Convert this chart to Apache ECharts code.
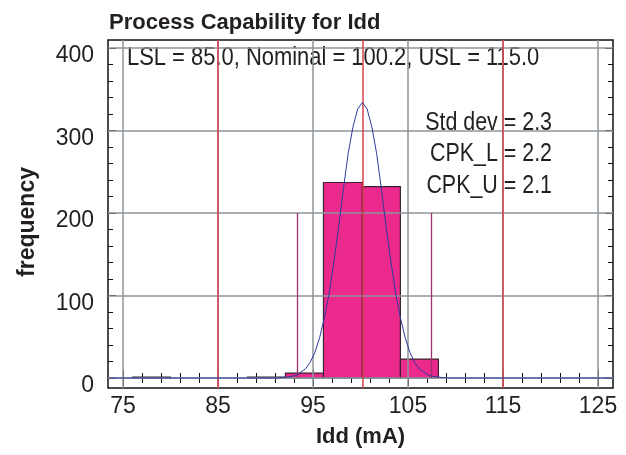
<!DOCTYPE html>
<html>
<head>
<meta charset="utf-8">
<script src="https://cdn.jsdelivr.net/npm/echarts@6/dist/echarts.min.js"></script>
<style>html,body{margin:0;padding:0;background:#fff}#chart{width:626px;height:455px}</style>
</head>
<body>
<div id="chart"></div>
<script>
// histogram bins (mA) and their counts
const binLo = [76.0, 88.1, 92.1, 96.1, 100.2, 104.2];
const binHi = [80.0, 92.1, 96.1, 100.2, 104.2, 108.2];
const binCount = [1, 1, 6, 237, 232, 23];

// fitted curve
const curveX = [73.5, 91.2, 92.2, 93.2, 94.2, 94.7, 95.2, 95.7, 96.2, 96.7, 97.2, 97.7, 98.2, 98.7, 99.2, 99.7, 100.2,
                100.7, 101.2, 101.7, 102.2, 102.7, 103.2, 103.7, 104.2, 104.7, 105.2, 105.7, 106.2, 107.2, 108.2, 109.2, 126.5];
const curveY = [0, 0, 1, 3, 11, 19, 31, 49, 73, 103, 141, 183, 229, 272, 304, 326, 334,
                326, 304, 272, 229, 183, 141, 103, 73, 49, 31, 19, 11, 3, 1, 0, 0];

// LSL, nominal, USL and the short sigma markers
const specLines = [85.0, 100.2, 115.0];
const sigmaLines = [93.3, 107.4];
const sigmaTop = 200;

const statNames = ['Std dev', 'CPK_L', 'CPK_U'];
const statValues = [2.3, 2.2, 2.1];

const xTicks = [75, 85, 95, 105, 115, 125];
const yTicks = [0, 100, 200, 300, 400];

const textCol = '#231f20';
const sans = "'Liberation Sans', Arial, sans-serif";
const tickStyle = { inside: true, length: 8, lineStyle: { color: '#111', width: 1 } };
const minorStyle = { show: true, splitNumber: 5, length: 5, lineStyle: { color: '#111', width: 1 } };

const chart = echarts.init(document.getElementById('chart'));

const specText = 'LSL = ' + specLines[0].toFixed(1) + ', Nominal = ' + specLines[1].toFixed(1) +
                 ', USL = ' + specLines[2].toFixed(1);
const statY = [122.5, 153.5, 186];

const option = {
    animation: false,
    title: {
        text: 'Process Capability for Idd',
        left: 104, top: 7,
        textStyle: { fontFamily: sans, fontWeight: 'bold', fontSize: 22, color: textCol }
    },
    grid: [
        { left: 108, top: 40, width: 505, height: 348, show: true, borderColor: '#111', borderWidth: 1.5 },
        { left: 123, top: 48, width: 475, height: 330 }
    ],
    xAxis: [
        { gridIndex: 0, type: 'value', min: 73.42, max: 126.58, show: false },
        {
            gridIndex: 1, type: 'value', min: 75, max: 125, interval: 10, position: 'bottom', offset: 10,
            axisLine: { show: false }, axisTick: tickStyle, minorTick: minorStyle, splitLine: { show: false },
            axisLabel: { margin: 7, fontFamily: sans, fontSize: 23, color: textCol },
            name: 'Idd (mA)', nameLocation: 'middle', nameGap: 38,
            nameTextStyle: { fontFamily: sans, fontWeight: 'bold', fontSize: 22, color: textCol }
        },
        {
            gridIndex: 1, type: 'value', min: 75, max: 125, interval: 10, position: 'top', offset: 8,
            axisLine: { show: false }, axisTick: tickStyle, minorTick: minorStyle, splitLine: { show: false },
            axisLabel: { show: false }
        }
    ],
    yAxis: [
        { gridIndex: 0, type: 'value', min: -12.1, max: 409.7, show: false },
        {
            gridIndex: 1, type: 'value', min: 0, max: 400, interval: 100, position: 'left', offset: 15,
            axisLine: { show: false }, axisTick: tickStyle, minorTick: minorStyle, splitLine: { show: false },
            axisLabel: { margin: 14, fontFamily: sans, fontSize: 23, color: textCol, verticalAlign: 'top', lineHeight: 16 },
            name: 'frequency', nameLocation: 'middle', nameGap: 69,
            nameTextStyle: { fontFamily: sans, fontWeight: 'bold', fontSize: 23, color: textCol, padding: [0, 18, 0, 0] }
        },
        {
            gridIndex: 1, type: 'value', min: 0, max: 400, interval: 100, position: 'right', offset: 15,
            axisLine: { show: false }, axisTick: tickStyle, minorTick: minorStyle, splitLine: { show: false },
            axisLabel: { show: false }
        }
    ],
    graphic: [
        {
            type: 'text', x: 127, y: 57.5, scaleX: 0.86,
            style: { text: specText, font: '25.5px "Liberation Sans"', fill: textCol, verticalAlign: 'middle' }
        }
    ].concat(statNames.map((n, i) => ({
        type: 'text', x: 552, y: statY[i], scaleX: 0.84,
        style: { text: n + ' = ' + statValues[i].toFixed(1), font: '25.5px "Liberation Sans"', fill: textCol,
                 align: 'right', verticalAlign: 'middle' }
    }))),
    series: [
        {
            // gray grid lines across the whole frame
            type: 'line', xAxisIndex: 0, yAxisIndex: 0, data: [], z: 1,
            markLine: {
                silent: true, symbol: ['none', 'none'], label: { show: false },
                lineStyle: { color: '#8e959b', width: 1.5, type: 'solid' },
                data: xTicks.map(v => ({ xAxis: v })).concat(yTicks.map(v => ({ yAxis: v })))
            }
        },
        {
            type: 'line', xAxisIndex: 0, yAxisIndex: 0, data: [], z: 2,
            markLine: {
                silent: true, symbol: ['none', 'none'], label: { show: false },
                lineStyle: { color: '#a0306e', width: 1.3, type: 'solid' },
                data: sigmaLines.map(v => [{ coord: [v, 0] }, { coord: [v, sigmaTop] }])
            }
        },
        {
            type: 'custom', xAxisIndex: 1, yAxisIndex: 1, z: 3,
            data: binLo.map((lo, i) => [lo, binHi[i], binCount[i]]),
            encode: { x: [0, 1], y: 2 },
            renderItem: function (params, api) {
                const a = api.coord([api.value(0), api.value(2)]);
                const b = api.coord([api.value(1), 0]);
                return {
                    type: 'rect',
                    shape: { x: a[0], y: a[1], width: b[0] - a[0], height: b[1] - a[1] },
                    style: { fill: '#ec2a8d', stroke: '#3b2330', lineWidth: 1.2 }
                };
            }
        },
        {
            type: 'line', xAxisIndex: 0, yAxisIndex: 0, data: [], z: 4,
            markLine: {
                silent: true, symbol: ['none', 'none'], label: { show: false },
                lineStyle: { color: '#d8404c', width: 1.5, type: 'solid' },
                data: specLines.map(v => ({ xAxis: v }))
            }
        },
        {
            type: 'line', xAxisIndex: 0, yAxisIndex: 0, z: 5,
            data: curveX.map((x, i) => [x, curveY[i]]),
            showSymbol: false, symbol: 'none',
            lineStyle: { color: '#2e3a9c', width: 1 }
        }
    ]
};

chart.setOption(option);
</script>
</body>
</html>
